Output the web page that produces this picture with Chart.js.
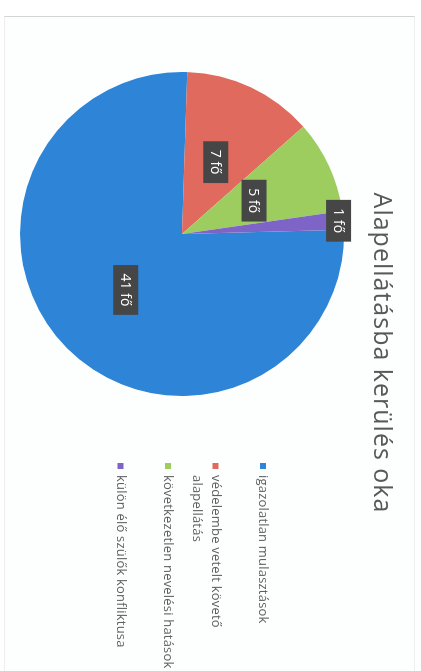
<!DOCTYPE html>
<html><head><meta charset="utf-8">
<script src="https://cdn.jsdelivr.net/npm/chart.js@4/dist/chart.umd.min.js"></script>
<style>
html,body{margin:0;padding:0;background:#fff;width:421px;height:671px;overflow:hidden}
#frame{position:absolute;left:4px;top:16px;width:409px;height:660px;border:1px solid #eeeeee;border-top:1px solid #d4d4d4;background:#fdfefe}
#wrap{position:absolute;left:0;top:0;width:671px;height:421px;transform-origin:0 0;transform:translate(421px,0) rotate(90deg)}
</style></head><body>
<div id="frame"></div>
<div id="wrap"><canvas id="c" width="671" height="421"></canvas></div>
<script>
const chartTitle = "Alapellátásba kerülés oka";
const categories = ["igazolatlan mulasztások", ["védelembe vetelt követő", "alapellátás"], "következetlen nevelési hatások", "külön élő szülők konfliktusa"];
const values = [41, 7, 5, 1];
const valueLabels = ["41 fő", "7 fő", "5 fő", "1 fő"];
const colors = ["#2e84d6", "#df6a5d", "#9dcd5f", "#7d64c6"];

const titlePlugin = {
  id: 'titleText',
  afterDraw(chart) {
    const ctx = chart.ctx;
    ctx.save();
    ctx.font = '25px "Open Sans"';
    ctx.letterSpacing = '1px';
    ctx.fillStyle = '#595959';
    ctx.textAlign = 'center';
    ctx.textBaseline = 'middle';
    ctx.fillText(chartTitle, 353, 40);
    ctx.restore();
  }
};

const legendPlugin = {
  id: 'sideLegend',
  afterDraw(chart) {
    const ctx = chart.ctx;
    const ds = chart.data.datasets[0];
    const x0 = 463, top = 158, pitch = 47.5, lineH = 18.5, box = 6;
    ctx.save();
    ctx.font = '13px "Open Sans"';
    ctx.letterSpacing = '0.2px';
    ctx.textBaseline = 'middle';
    chart.data.labels.forEach((lab, i) => {
      const y = top + i * pitch;
      ctx.fillStyle = ds.backgroundColor[i];
      ctx.fillRect(x0, y - box / 2, box, box);
      ctx.fillStyle = '#5f5f5f';
      const lines = Array.isArray(lab) ? lab : [lab];
      lines.forEach((t, j) => ctx.fillText(t, x0 + 12, y + j * lineH));
    });
    ctx.restore();
  }
};

const valueLabelPlugin = {
  id: 'valueBoxes',
  afterDatasetsDraw(chart) {
    const ctx = chart.ctx;
    const meta = chart.getDatasetMeta(0);
    const total = values.reduce((a, b) => a + b, 0);
    ctx.save();
    ctx.font = '14px "Open Sans"';
    ctx.textAlign = 'center';
    ctx.textBaseline = 'middle';
    meta.data.forEach((arc, i) => {
      const p = arc.getProps(['x', 'y', 'startAngle', 'endAngle', 'outerRadius'], true);
      const mid = (p.startAngle + p.endAngle) / 2;
      const r = values[i] / total < 0.05 ? p.outerRadius * 0.97 : p.outerRadius * 0.49;
      const cx = p.x + Math.cos(mid) * r;
      const cy = p.y + Math.sin(mid) * r;
      const w = ctx.measureText(valueLabels[i]).width + 17;
      const h = 25;
      ctx.fillStyle = '#464646';
      ctx.fillRect(cx - w / 2, cy - h / 2, w, h);
      ctx.fillStyle = '#ffffff';
      ctx.fillText(valueLabels[i], cx, cy + 1);
    });
    ctx.restore();
  }
};

new Chart(document.getElementById('c'), {
  type: 'pie',
  data: {
    labels: categories,
    datasets: [{
      data: values,
      backgroundColor: colors,
      borderWidth: 0,
      hoverOffset: 0
    }]
  },
  options: {
    responsive: false,
    animation: false,
    devicePixelRatio: 1,
    rotation: -1.5,
    layout: { padding: { top: 77, bottom: 20, left: 72, right: 275 } },
    plugins: {
      legend: { display: false },
      title: { display: false },
      tooltip: { enabled: false }
    }
  },
  plugins: [valueLabelPlugin, titlePlugin, legendPlugin]
});
</script>
</body></html>
